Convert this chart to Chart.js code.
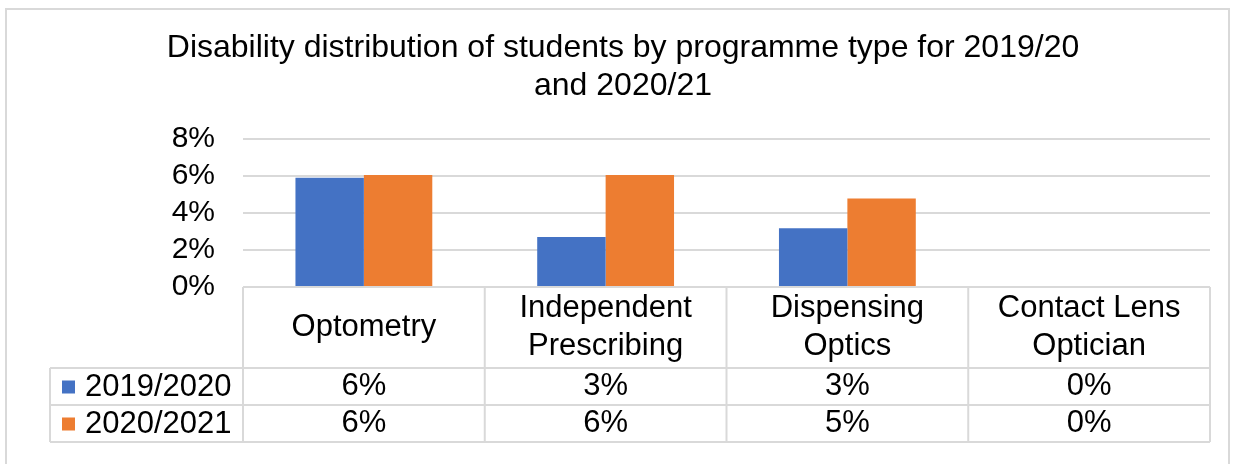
<!DOCTYPE html>
<html><head><meta charset="utf-8">
<script src="https://cdn.jsdelivr.net/npm/chart.js@4.4.1/dist/chart.umd.min.js"></script>
<style>html,body{margin:0;padding:0;background:#fff;} canvas{display:block;}</style>
</head><body>
<canvas id="c" width="1239" height="464"></canvas>
<script>
// ---- data ----
const categories = [["Optometry"], ["Independent", "Prescribing"], ["Dispensing", "Optics"], ["Contact Lens", "Optician"]];
const seriesNames = ["2019/2020", "2020/2021"];
const values2019 = [5.9, 2.7, 3.17, 0];
const values2020 = [6.05, 6.05, 4.78, 0];
const yTickValues = [0, 2, 4, 6, 8];
const titleLines = ["Disability distribution of students by programme type for 2019/20", "and 2020/21"];
const seriesColors = ["#4472C4", "#ED7D31"];

const FONT = "'Liberation Sans', Arial, sans-serif";
const TITLE_FS = 32;
const TICK_FS = 30;
const TABLE_FS = 31;

const frame = {
  id: 'frame',
  beforeDraw(chart) {
    const ctx = chart.ctx;
    ctx.save();
    ctx.fillStyle = '#fff';
    ctx.fillRect(0, 0, chart.width, chart.height);
    ctx.strokeStyle = '#d9d9d9';
    ctx.lineWidth = 2;
    ctx.strokeRect(6, 9, 1223, 480);
    ctx.restore();
  }
};

const dataTable = {
  id: 'dataTable',
  afterDraw(chart, args, opts) {
    const ctx = chart.ctx, xs = chart.scales.x, area = chart.chartArea;
    const n = chart.data.labels.length;
    const colW = (area.right - area.left) / n;
    const top = area.bottom;
    const headH = opts.headerHeight, rowH = opts.rowHeight;
    const rows = chart.data.datasets.length;
    const bottom = top + headH + rows * rowH;
    const line = (x1, y1, x2, y2) => { ctx.beginPath(); ctx.moveTo(x1, y1); ctx.lineTo(x2, y2); ctx.stroke(); };
    ctx.save();
    ctx.strokeStyle = opts.lineColor;
    ctx.lineWidth = opts.lineWidth;
    for (let i = 0; i <= n; i++) { const x = area.left + i * colW; line(x, top, x, bottom); }
    line(area.left, top, area.right, top);
    for (let r = 0; r <= rows; r++) { const y = top + headH + r * rowH; line(opts.legendLeft, y, area.right, y); }
    line(opts.legendLeft, top + headH, opts.legendLeft, bottom);

    ctx.font = TABLE_FS + 'px ' + FONT;
    ctx.fillStyle = '#000';
    ctx.textAlign = 'center';
    ctx.textBaseline = 'middle';
    chart.data.labels.forEach((lab, i) => {
      const cx = xs.getPixelForValue(i);
      const lines = Array.isArray(lab) ? lab : [lab];
      const cy = top + headH / 2;
      lines.forEach((t, k) => ctx.fillText(t, cx, cy + (k - (lines.length - 1) / 2) * opts.lineHeight));
    });
    chart.data.datasets.forEach((ds, r) => {
      const cy = top + headH + r * rowH + rowH / 2;
      ctx.textAlign = 'center';
      ctx.fillStyle = '#000';
      ds.data.forEach((v, i) => ctx.fillText(Math.round(v) + '%', xs.getPixelForValue(i), cy));
      ctx.fillStyle = ds.backgroundColor;
      ctx.fillRect(opts.legendLeft + 12, cy - 6, 13, 13);
      ctx.fillStyle = '#000';
      ctx.textAlign = 'left';
      ctx.fillText(ds.label, opts.legendLeft + 35, cy + 1);
    });
    ctx.restore();
  }
};

new Chart(document.getElementById('c'), {
  type: 'bar',
  data: {
    labels: categories,
    datasets: [
      { label: seriesNames[0], data: values2019, backgroundColor: seriesColors[0] },
      { label: seriesNames[1], data: values2020, backgroundColor: seriesColors[1] }
    ]
  },
  options: {
    responsive: false,
    animation: false,
    events: [],
    categoryPercentage: 0.566,
    barPercentage: 1.0,
    layout: { padding: { left: 36, right: 29, top: 0, bottom: 177 } },
    plugins: {
      legend: { display: false },
      tooltip: { enabled: false },
      title: {
        display: true,
        text: titleLines,
        color: '#000',
        font: { family: FONT, size: TITLE_FS, weight: 'normal', lineHeight: 38 / TITLE_FS },
        padding: { top: 29, bottom: 34 }
      },
      dataTable: { headerHeight: 81, rowHeight: 37, lineHeight: 38, legendLeft: 50, lineColor: '#d9d9d9', lineWidth: 2 }
    },
    scales: {
      x: { display: false },
      y: {
        min: 0, max: 8,
        afterBuildTicks: s => { s.ticks = yTickValues.map(v => ({ value: v })); },
        afterFit: s => { s.width = 207; },
        ticks: { color: '#000', padding: 28, autoSkip: false, font: { family: FONT, size: TICK_FS }, callback: v => v + '%' },
        grid: { color: '#d9d9d9', lineWidth: 2, drawTicks: false },
        border: { display: false }
      }
    }
  },
  plugins: [frame, dataTable]
});
</script>
</body></html>
